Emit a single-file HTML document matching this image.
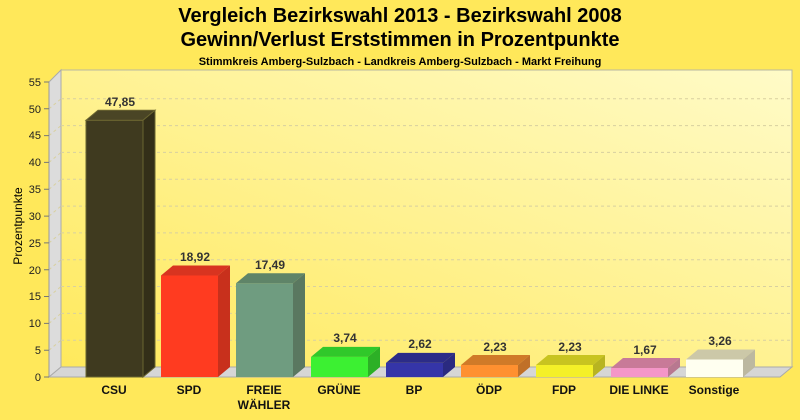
<!DOCTYPE html>
<html><head><meta charset="utf-8"><style>body{margin:0}svg{display:block}text{font-family:"Liberation Sans",sans-serif}</style></head><body>
<svg width="800" height="420" viewBox="0 0 800 420" xmlns="http://www.w3.org/2000/svg">
<defs>
<linearGradient id="bg" x1="0" y1="1" x2="1" y2="0"><stop offset="0" stop-color="#ffe95c"/><stop offset="1" stop-color="#fffbc8"/></linearGradient>
</defs>
<rect width="800" height="420" fill="#ffe85a"/>
<text x="400" y="22" font-size="20" font-weight="bold" text-anchor="middle">Vergleich Bezirkswahl 2013 - Bezirkswahl 2008</text>
<text x="400" y="46" font-size="20" font-weight="bold" text-anchor="middle">Gewinn/Verlust Erststimmen in Prozentpunkte</text>
<text x="400" y="65" font-size="11" font-weight="bold" text-anchor="middle">Stimmkreis Amberg-Sulzbach - Landkreis Amberg-Sulzbach - Markt Freihung</text>
<rect x="61" y="70" width="731" height="297" fill="url(#bg)" stroke="#b8b8a0" stroke-width="1"/>
<polygon points="49,82 61,70 61,367 49,377" fill="#dcdcdc" stroke="#aaa" stroke-width="1"/>
<polygon points="49,377 61,367 792,367 780,377" fill="#d6d6d6" stroke="#aaa" stroke-width="1"/>
<g stroke="#d8d0a0" stroke-dasharray="3,3" stroke-width="1">
<path d="M61,340.2H792M61,313.4H792M61,286.5H792M61,259.7H792M61,232.9H792M61,206.1H792M61,179.3H792M61,152.4H792M61,125.6H792M61,98.8H792"/>
<path d="M49,350.2L61,340.2M49,323.4L61,313.4M49,296.5L61,286.5M49,269.7L61,259.7M49,242.9L61,232.9M49,216.1L61,206.1M49,189.3L61,179.3M49,162.4L61,152.4M49,135.6L61,125.6M49,108.8L61,98.8"/>
</g>
<path d="M49,82V377" stroke="#999"/>
<g stroke="#777"><path d="M44,377H49M44,350.2H49M44,323.4H49M44,296.5H49M44,269.7H49M44,242.9H49M44,216.1H49M44,189.3H49M44,162.4H49M44,135.6H49M44,108.8H49M44,82H49"/></g>
<g font-size="11" text-anchor="end" fill="#222">
<text x="41" y="381">0</text><text x="41" y="354">5</text><text x="41" y="327">10</text><text x="41" y="300">15</text><text x="41" y="274">20</text><text x="41" y="247">25</text><text x="41" y="220">30</text><text x="41" y="193">35</text><text x="41" y="166">40</text><text x="41" y="139">45</text><text x="41" y="113">50</text><text x="41" y="86">55</text>
</g>
<text transform="translate(22,226) rotate(-90)" font-size="12" text-anchor="middle">Prozentpunkte</text>
<g stroke-width="1">
<rect x="86" y="120.3" width="57" height="256.7" fill="#3f3a1f" stroke="#6a6530"/>
<polygon points="86,120.3 98,110.3 155,110.3 143,120.3" fill="#4a4525" stroke="#6a6530"/>
<polygon points="143,120.3 155,110.3 155,367 143,377" fill="#332f18" stroke="#6a6530"/>
<rect x="161" y="275.5" width="57" height="101.5" fill="#ff3b20"/>
<polygon points="161,275.5 173,265.5 230,265.5 218,275.5" fill="#d83420"/>
<polygon points="218,275.5 230,265.5 230,367 218,377" fill="#c8301c"/>
<rect x="236" y="283.2" width="57" height="93.8" fill="#6f9c80"/>
<polygon points="236,283.2 248,273.2 305,273.2 293,283.2" fill="#5f8468"/>
<polygon points="293,283.2 305,273.2 305,367 293,377" fill="#5a7860"/>
<rect x="311" y="356.9" width="57" height="20.1" fill="#3cf032"/>
<polygon points="311,356.9 323,346.9 380,346.9 368,356.9" fill="#30c82a"/>
<polygon points="368,356.9 380,346.9 380,367 368,377" fill="#2cb026"/>
<rect x="386" y="362.9" width="57" height="14.1" fill="#3535a8"/>
<polygon points="386,362.9 398,352.9 455,352.9 443,362.9" fill="#2c2c88"/>
<polygon points="443,362.9 455,352.9 455,367 443,377" fill="#2a2a80"/>
<rect x="461" y="365" width="57" height="12" fill="#ff9030"/>
<polygon points="461,365 473,355 530,355 518,365" fill="#d07a28"/>
<polygon points="518,365 530,355 530,367 518,377" fill="#c07028"/>
<rect x="536" y="365" width="57" height="12" fill="#f4f028"/>
<polygon points="536,365 548,355 605,355 593,365" fill="#c8c420"/>
<polygon points="593,365 605,355 605,367 593,377" fill="#b8b420"/>
<rect x="611" y="368" width="57" height="9" fill="#f496c8"/>
<polygon points="611,368 623,358 680,358 668,368" fill="#c87a98"/>
<polygon points="668,368 680,358 680,367 668,377" fill="#b87890"/>
<rect x="686" y="359.5" width="57" height="17.5" fill="#fffff0"/>
<polygon points="686,359.5 698,349.5 755,349.5 743,359.5" fill="#ccc8a8"/>
<polygon points="743,359.5 755,349.5 755,367 743,377" fill="#bcb8a0"/>
</g>
<g font-size="12" font-weight="bold" fill="#333" text-anchor="middle">
<text x="120" y="106">47,85</text><text x="195" y="261">18,92</text><text x="270" y="269">17,49</text><text x="345" y="342">3,74</text><text x="420" y="348">2,62</text><text x="495" y="351">2,23</text><text x="570" y="351">2,23</text><text x="645" y="354">1,67</text><text x="720" y="345">3,26</text>
</g>
<g font-size="12" font-weight="bold" fill="#111" text-anchor="middle">
<text x="114" y="394">CSU</text><text x="189" y="394">SPD</text><text x="264" y="394">FREIE</text><text x="264" y="409">WÄHLER</text><text x="339" y="394">GRÜNE</text><text x="414" y="394">BP</text><text x="489" y="394">ÖDP</text><text x="564" y="394">FDP</text><text x="639" y="394">DIE LINKE</text><text x="714" y="394">Sonstige</text>
</g>
</svg>
</body></html>
